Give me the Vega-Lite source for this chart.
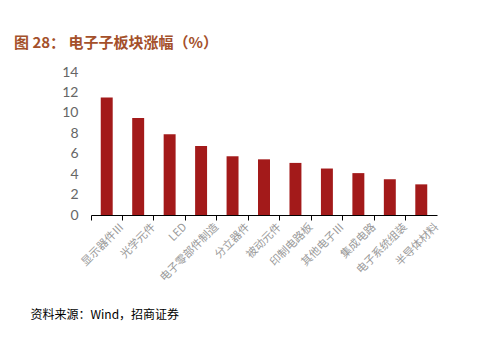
{
  "$schema": "https://vega.github.io/schema/vega-lite/v6.json",
  "autosize": "none",
  "padding": {"left": 91, "top": 72, "right": 63, "bottom": 147},
  "width": 346,
  "height": 143,
  "background": "white",
  "title": {
    "text": "图 28： 电子子板块涨幅（%）",
    "anchor": "start",
    "frame": "group",
    "dx": -77,
    "offset": 14,
    "font": "Noto Sans CJK SC",
    "fontSize": 15,
    "fontWeight": "bold",
    "color": "#A4502A"
  },
  "data": {
    "values": [
      {"sector": "显示器件Ⅲ", "change": 11.5},
      {"sector": "光学元件", "change": 9.5},
      {"sector": "LED", "change": 7.9},
      {"sector": "电子零部件制造", "change": 6.75},
      {"sector": "分立器件", "change": 5.75},
      {"sector": "被动元件", "change": 5.45},
      {"sector": "印制电路板", "change": 5.1},
      {"sector": "其他电子Ⅲ", "change": 4.55},
      {"sector": "集成电路", "change": 4.1},
      {"sector": "电子系统组装", "change": 3.5},
      {"sector": "半导体材料", "change": 3.0}
    ]
  },
  "mark": {"type": "bar", "color": "#A31A1A", "width": {"band": 0.38}},
  "encoding": {
    "x": {
      "field": "sector",
      "type": "nominal",
      "sort": null,
      "scale": {"paddingInner": 0, "paddingOuter": 0},
      "axis": {
        "bandPosition": 0,
        "labelOffset": 15.7,
        "labelAngle": -45,
        "labelAlign": "right",
        "labelBaseline": "middle",
        "labelFont": "Noto Sans CJK SC",
        "labelFontSize": 11,
        "labelColor": "#9A9A9A",
        "labelPadding": 5,
        "domainColor": "#000000",
        "tickColor": "#000000",
        "tickSize": 5,
        "title": "资料来源：Wind，招商证券",
        "titleX": -61,
        "titleY": 99,
        "titleAlign": "left",
        "titleBaseline": "middle",
        "titleFont": "Noto Sans CJK SC",
        "titleFontSize": 12,
        "titleFontWeight": "normal",
        "titleColor": "#000000"
      }
    },
    "y": {
      "field": "change",
      "type": "quantitative",
      "scale": {"domain": [0, 14]},
      "axis": {
        "values": [0, 2, 4, 6, 8, 10, 12, 14],
        "domain": false,
        "ticks": false,
        "grid": false,
        "title": null,
        "labelFont": "Lato",
        "labelFontSize": 14,
        "labelColor": "#666666",
        "labelPadding": 13
      }
    }
  },
  "config": {"view": {"stroke": null}}
}
